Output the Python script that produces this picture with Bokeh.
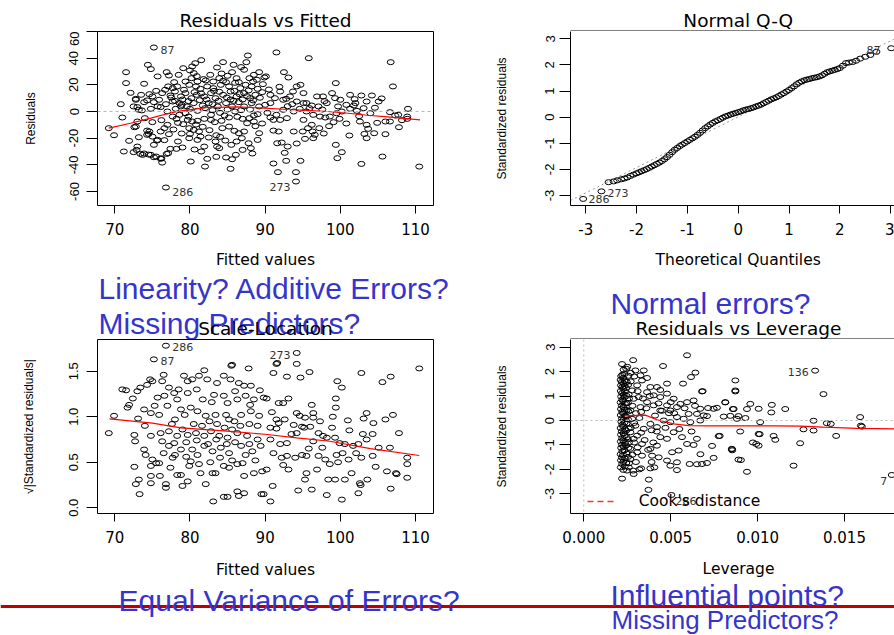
from bokeh.plotting import figure
from bokeh.layouts import row, column
from bokeh.models import (Label, Span, FixedTicker, Range1d, Legend, LegendItem, PrintfTickFormatter)
from bokeh.embed import file_html
from bokeh.resources import INLINE

# ---------------- data ----------------
# Residuals vs Fitted: (fitted value, residual)
rvf_points = [
    (75.2, 48), (87.7, 42), (81.5, 38.5), (84.4, 37), (80.7, 36.2), (74.4, 35), (74.8, 31.8), (71.5, 29.5),
    (75.7, 26.3), (77.2, 27), (78.5, 27.5), (80.0, 30.8), (80.3, 33.8), (80.5, 28.8), (80.2, 25), (81.0, 22.5),
    (81.8, 24.3), (82.1, 23.3), (83.1, 22.5), (83.9, 25), (84.4, 23), (85.0, 26.8), (85.6, 29.5), (86.2, 25),
    (86.8, 33.3), (87.2, 31.3), (87.9, 25), (88.5, 27.5), (89.2, 29.5), (89.9, 25.5),
    (71.5, 21.3), (73.9, 20.8), (77.1, 18.8), (77.7, 17.5), (78.3, 18.8), (79.2, 16.3), (79.9, 20), (80.8, 18.8),
    (81.4, 17), (82.3, 18.8), (83.1, 17.5), (84.1, 20), (85.2, 18.8), (85.9, 15.5), (86.7, 17.5), (87.4, 20),
    (88.2, 18.8), (89.0, 17), (89.7, 20.5),
    (76.3, 13.8), (77.4, 12), (78.0, 15), (78.8, 11.3), (79.4, 13.8), (80.2, 10), (80.9, 12.5), (81.9, 11.3),
    (82.8, 13.8), (83.4, 10), (84.4, 12.5), (85.4, 15), (86.2, 11.3), (87.2, 13.8), (88.0, 10), (88.7, 12.5),
    (89.6, 14.5),
    (72.8, 8.8), (73.9, 7), (75.0, 11.3), (75.9, 8.8), (76.8, 5.5), (77.7, 7.5), (78.6, 6.3), (79.6, 3.8),
    (80.5, 6.3), (81.7, 4.5), (82.5, 6.3), (83.7, 3.8), (84.8, 6.3), (85.6, 3.8), (86.5, 7), (87.2, 3.8),
    (88.2, 6.3), (89.2, 3.8), (72.5, 3.8), (73.2, 1.3), (74.8, 2), (75.7, 3.8), (77.0, 0), (78.1, 2), (78.8, 3.8),
    (72.8, 9.5), (73.0, 3.3), (73.6, 0.8), (74.3, 8.3), (75.2, 7), (76.1, 3.3),
    (69.2, -12.5), (69.9, -17.8), (71.9, -22), (71.2, -30), (72.6, -11.8), (72.9, -28.8), (73.7, -32.5),
    (74.6, -15), (74.3, -17.5), (75.0, -18.8), (75.7, -21.3), (76.1, -15), (76.6, -12.5), (77.0, -10),
    (75.5, -33.8), (76.2, -35), (76.3, -38.3), (77.1, -31.3), (78.2, -28), (79.0, -27), (79.7, -6.3),
    (80.3, -7.5), (81.0, -7), (81.9, -5.5), (82.8, -6.3), (79.9, -12.5), (80.5, -13.8), (81.2, -15),
    (79.9, -20), (81.0, -21.3), (81.4, -18.8), (82.5, -19.5), (83.6, -26.3), (83.9, -27.5), (81.9, -26.3),
    (80.1, -37.5), (82.3, -35.5), (83.5, -34), (84.8, -34.5), (85.6, -35.8), (85.4, -43), (82.0, -41.3),
    (84.3, -12.5), (85.2, -11.3), (85.9, -14.5), (86.5, -16.3), (87.2, -15), (87.6, -8.8), (87.0, -5.5),
    (87.9, -5), (88.5, -7.5), (89.2, -16.3), (89.0, -21.3), (87.0, -28.8), (88.1, -27.5), (86.1, -32.5),
    (86.3, -4), (85.2, -4.5), (84.2, -7), (83.3, -8), (78.6, -2.5), (79.4, -1.3), (77.7, -3.8), (73.0, -26.3),
    (73.9, -31.5), (74.8, -32.5), (75.2, -25), (76.6, -21.5), (76.8, -57),
    (72.8, -11.3), (73.2, -19.3), (74.3, -14.3), (74.5, -16.8), (75.6, -21.8), (72.5, -30.5), (73.4, -31.8),
    (74.5, -32.3), (75.2, -34.3), (76.1, -35.5), (76.9, -31.8), (77.4, -28),
    (78.0, 8), (79.0, 9), (80.0, 2), (81.0, 0.5), (82.0, 2.5), (83.0, 1), (84.0, -1), (85.0, 1.5), (86.0, 0),
    (87.0, 9), (88.0, 1.5), (89.0, -2), (82.8, -2.5), (84.6, -3), (86.8, 1), (88.7, -11), (80.8, -9.8),
    (78.4, -8.5), (83.2, 15.5), (86.0, 21.5), (88.4, 22.5), (84.8, 22), (82.7, 27.5), (79.4, 22.5), (85.4, 9),
    (83.8, 8), (87.8, 15.8), (81.3, 8.5), (79.8, -3.8), (78.9, -16.5), (77.2, -17), (84.0, -19), (86.2, -22.5),
    (88.5, -3), (90.3, -1), (90.5, 16.5), (91.9, 18.5), (93.0, 4), (97.9, 7.8), (101.9, 9.3),
    (77.5, 10.5), (78.9, 5), (79.8, 7.8), (80.6, 14.5), (81.5, 13.5), (82.2, 9), (83.0, 5.5), (83.9, 14.8),
    (84.9, 10.5), (85.8, 8), (86.6, 13), (87.6, 11.5), (88.4, 8.3), (89.3, 10.3), (76.7, 16.3), (75.5, 15.5),
    (74.6, 13), (73.5, 12.5), (77.9, 22), (80.9, 26.5), (84.2, 28.5), (86.5, 22), (88.9, 23.8), (78.2, -5.5),
    (79.1, -9.5), (80.0, -16.8), (81.7, -11.5), (82.6, -14), (83.5, -17.8), (84.7, -21.8), (85.5, -25),
    (86.9, -20), (87.8, -23.8), (88.3, -31.5), (89.6, -9), (83.4, -22.5), (81.5, -30), (80.6, -28.5),
    (78.4, -22.5), (77.8, -13.5), (76.2, -6.5), (75.0, -8), (74.0, -5), (73.0, -7.5), (71.0, -4.5), (70.8, 5.5),
    (72.1, 14), (76.9, 29.5), (79.1, 32.5), (83.6, 33), (85.8, 35), (87.5, 37), (92.8, 9.5), (93.6, 5.5),
    (95.9, 2.5), (97.6, 1.5), (99.7, 3.8), (101.8, 4.5), (104.6, 2.8), (105.5, 9.8), (102.5, -3.5), (100.8, -9),
    (98.5, -11), (97.8, -16.5), (95.3, -20.5), (94.2, -24), (92.6, -31), (101.2, -18), (104.9, -8.5), (108.2, -6.5),
    (91.5, 44.3), (95.8, 40), (106.7, 37), (92.5, 29.5), (93.1, 25.5), (90.1, 26.3), (99.4, 21.3), (107.0, 18.8),
    (94.7, 20), (94.2, 18.8), (95.1, 13.8), (93.7, 15), (92.0, 15), (90.7, 12.5), (91.3, 10), (92.4, 8.8),
    (93.3, 11.3), (94.2, 7.5), (95.5, 6.3), (96.9, 11.3), (97.7, 11.3), (98.9, 13.8), (100.0, 8.8),
    (101.3, 12.5), (102.8, 12), (104.2, 12), (105.1, 7.5), (103.5, 7.5), (102.0, 6.3), (100.8, 5), (99.3, 10),
    (98.2, 6.3), (97.1, 3.8), (96.2, 4.5), (95.1, 6.3), (90.7, 6.3), (90.0, 5), (109.0, 2), (108.9, -3.8),
    (108.9, -5.5), (107.7, -2.5), (107.3, -3), (106.6, -0.5), (106.6, -7.5), (106.0, -7.5), (107.8, -11.8),
    (99.5, -1.3), (100.2, 0), (98.6, -3.8), (98.0, -4.5), (97.3, -3.8), (96.4, -2.5), (95.5, 0), (94.6, 2),
    (93.8, 0), (92.4, 1.3), (91.5, -2.5), (90.7, -4.5), (91.1, -6.3), (92.0, -6.3), (92.9, -5), (95.1, -6.3),
    (99.1, -8), (99.9, -5.5), (101.3, 2), (102.2, 0.5), (103.1, 2.5), (104.0, -1.3), (102.6, -7.5),
    (103.5, -10), (103.7, -13), (104.5, -16.3), (103.2, -16.8), (103.5, -20), (106.0, -17), (91.1, -14.3),
    (91.8, -15), (93.8, -15), (95.0, -15), (95.7, -12.5), (96.2, -10), (96.3, -15), (96.6, -17.5),
    (96.4, -20), (97.2, -12.5), (91.6, -23.8), (92.2, -23.3), (93.0, -26.3), (99.4, -25), (100.2, -30.5),
    (99.6, -35), (105.6, -33.8), (102.8, -39.3), (110.5, -41.3), (91.1, -39), (92.8, -37), (94.7, -37),
    (91.7, -45.5), (94.1, -45.5), (94.1, -52.5),
]
rvf_fitted = [p[0] for p in rvf_points]
rvf_resid = [p[1] for p in rvf_points]
rvf_smooth_x = [69.2, 72.1, 74.8, 77.2, 79.2, 82.3, 86.3, 89.9, 93.0, 95.6, 98.3, 101.0, 103.6, 106.3, 110.6]
rvf_smooth_y = [-12.5, -8.8, -5.0, -1.3, 0.8, 3.0, 3.5, 2.5, 1.5, 0.8, 0.0, -1.3, -2.8, -4.0, -6.3]
rvf_xticks = [70, 80, 90, 100, 110]
rvf_yticks = [-60, -40, -20, 0, 20, 40, 60]

# Normal Q-Q: theoretical quantile, standardized residual
qq_theoretical = [-3.05, -2.69, -2.55, -2.45, -2.38, -2.30, -2.24, -2.18, -2.12, -2.06, -2.0, -1.95, -1.9,
                  -1.85, -1.8, -1.75, -1.7, -1.65, -1.6, -1.55, -1.5, -1.45, -1.4, -1.35, -1.3, -1.25, -1.2,
                  -1.15, -1.1, -1.05, -1.0, -0.95, -0.9, -0.85, -0.8, -0.75, -0.7, -0.65, -0.6, -0.55, -0.5,
                  -0.45, -0.4, -0.35, -0.3, -0.25, -0.2, -0.15, -0.1, -0.05, 0.0, 0.05, 0.1, 0.15, 0.2, 0.25,
                  0.3, 0.35, 0.4, 0.45, 0.5, 0.55, 0.6, 0.65, 0.7, 0.75, 0.8, 0.85, 0.9, 0.95, 1.0, 1.05, 1.1,
                  1.15, 1.2, 1.25, 1.3, 1.35, 1.4, 1.45, 1.5, 1.55, 1.6, 1.65, 1.7, 1.75, 1.8, 1.85, 1.9, 1.95,
                  2.0, 2.06, 2.12, 2.18, 2.25, 2.32, 2.4, 2.5, 2.6, 2.72, 3.01]
qq_sample = [-3.13, -2.84, -2.49, -2.46, -2.42, -2.38, -2.35, -2.31, -2.25, -2.2, -2.15, -2.11, -2.07,
             -2.03, -1.99, -1.94, -1.89, -1.84, -1.79, -1.74, -1.68, -1.61, -1.53, -1.44, -1.34, -1.25, -1.18,
             -1.11, -1.05, -0.99, -0.93, -0.87, -0.81, -0.75, -0.68, -0.6, -0.51, -0.42, -0.35, -0.28, -0.22,
             -0.16, -0.12, -0.07, -0.02, 0.03, 0.06, 0.1, 0.13, 0.16, 0.19, 0.22, 0.26, 0.29, 0.31, 0.34,
             0.37, 0.41, 0.44, 0.48, 0.53, 0.58, 0.63, 0.68, 0.72, 0.76, 0.81, 0.87, 0.92, 0.98, 1.04, 1.11, 1.18,
             1.26, 1.32, 1.37, 1.41, 1.44, 1.46, 1.49, 1.51, 1.53, 1.56, 1.6, 1.66, 1.72, 1.75, 1.78, 1.81, 1.84,
             1.88, 1.97, 2.07, 2.09, 2.11, 2.16, 2.24, 2.31, 2.38, 2.5, 2.64]
qq_line_x = [-3.3, 3.08]
qq_line_y = [-3.19, 3.0]
qq_ticks = [-3, -2, -1, 0, 1, 2, 3]

# Scale-Location: (fitted value, sqrt(|standardized residual|))
sl_points = [
    (76.8, 1.78), (75.2, 1.63), (85.5, 1.56), (85.6, 1.57), (87.8, 1.53), (81.9, 1.51), (81.2, 1.45), (84.5, 1.45),
    (76.5, 1.46), (76.3, 1.39), (75.0, 1.39), (74.3, 1.35), (74.7, 1.41), (73.4, 1.32), (73.0, 1.28), (71.0, 1.3),
    (71.5, 1.29), (77.2, 1.32), (77.9, 1.26), (79.2, 1.45), (79.7, 1.39), (80.3, 1.41), (82.3, 1.41), (83.6, 1.37),
    (85.4, 1.41), (86.5, 1.37), (87.2, 1.34), (88.1, 1.34), (89.3, 1.29),
    (79.7, 1.26), (78.3, 1.19), (76.6, 1.23), (75.7, 1.21), (81.7, 1.19), (83.2, 1.24), (84.5, 1.23), (86.3, 1.19),
    (87.4, 1.23), (88.5, 1.19), (89.8, 1.21),
    (71.9, 1.13), (71.7, 1.1), (73.9, 1.08), (74.8, 1.04), (75.9, 1.02), (78.8, 1.08), (80.1, 1.1), (81.0, 1.06),
    (82.1, 1.01), (83.4, 1.02), (84.8, 1.02), (85.2, 0.97), (85.9, 0.95), (86.8, 1.02), (88.1, 1.06), (89.2, 1.01),
    (69.9, 1.01),
    (69.2, 0.82), (72.6, 0.8), (72.7, 0.73), (74.8, 0.79), (76.1, 0.82), (77.2, 0.84), (78.3, 0.79), (79.0, 0.86),
    (79.7, 0.8), (80.8, 0.82), (81.9, 0.79), (82.8, 0.84), (83.9, 0.79), (85.0, 0.77), (86.3, 0.82), (87.6, 0.79),
    (89.0, 0.75),
    (76.3, 0.73), (77.2, 0.68), (77.9, 0.71), (78.8, 0.64), (80.3, 0.64), (81.0, 0.58), (81.9, 0.68), (83.0, 0.62),
    (84.1, 0.66), (85.2, 0.6), (86.8, 0.68), (87.4, 0.58), (88.3, 0.62), (89.4, 0.68), (73.9, 0.64), (74.1, 0.58),
    (75.0, 0.53), (75.5, 0.49), (77.7, 0.55), (80.1, 0.51), (79.9, 0.46), (81.4, 0.38), (83.4, 0.38), (84.5, 0.46),
    (85.2, 0.44), (86.3, 0.48), (87.2, 0.35), (88.5, 0.38), (89.6, 0.4), (72.6, 0.45), (74.8, 0.46), (75.9, 0.49),
    (77.4, 0.44), (73.2, 0.31), (72.8, 0.26), (74.8, 0.35), (74.8, 0.27), (76.0, 0.35), (76.8, 0.26), (76.8, 0.22),
    (78.3, 0.36), (78.8, 0.36), (79.7, 0.29), (79.0, 0.24), (82.1, 0.26), (83.0, 0.38), (73.3, 0.15), (84.5, 0.12),
    (85.0, 0.12), (83.1, 0.07), (86.3, 0.18), (86.5, 0.13), (87.2, 0.16), (89.5, 0.15),
    (77.0, 1.12), (78.0, 0.97), (79.3, 1.02), (80.5, 0.92), (81.6, 0.9), (82.6, 0.95), (83.6, 0.92), (84.6, 0.88),
    (85.6, 0.86), (86.7, 0.9), (87.9, 0.92), (89.0, 0.9), (77.6, 0.92), (79.5, 0.72), (80.9, 0.74), (82.4, 0.7),
    (83.5, 0.75), (84.9, 0.7), (86.0, 0.72), (87.9, 0.7), (76.5, 0.6), (78.0, 0.58), (79.5, 0.56), (81.2, 0.48),
    (82.7, 0.5), (84.0, 0.55), (85.6, 0.52), (87.0, 0.49), (88.7, 0.52), (74.0, 0.9), (73.1, 0.98), (72.4, 1.2),
    (75.3, 1.12), (78.5, 1.3), (80.9, 1.3), (82.9, 1.16), (85.0, 1.15), (86.0, 1.28), (88.0, 1.13), (90.9, 1.05),
    (92.6, 0.97), (93.5, 0.81), (95.8, 0.65), (97.6, 0.66), (100.3, 0.6), (102.1, 0.6), (104.7, 0.45),
    (106.2, 0.4), (101.0, 0.96), (95.2, 0.88), (97.3, 0.95), (99.0, 1.0),
    (94.2, 1.7), (91.5, 1.58), (91.6, 1.59), (94.2, 1.58), (91.1, 1.48), (92.9, 1.44), (94.7, 1.43), (95.9, 1.49),
    (99.6, 1.39), (100.2, 1.32), (102.8, 1.48), (105.6, 1.38), (106.7, 1.44), (110.5, 1.53), (90.2, 1.2),
    (91.8, 1.15), (92.4, 1.15), (93.1, 1.2), (96.2, 1.13), (99.4, 1.2), (99.4, 1.1), (94.2, 1.04), (94.6, 1.01),
    (95.3, 0.99), (96.4, 1.04), (96.4, 0.99), (91.5, 0.97), (91.8, 0.93), (103.5, 1.04), (103.1, 0.98),
    (104.4, 0.93), (106.0, 0.97), (107.0, 1.02), (90.7, 0.88), (91.5, 0.87), (93.8, 0.91), (94.9, 0.89),
    (96.0, 0.89), (97.1, 0.82), (97.7, 0.79), (98.9, 0.88), (101.2, 0.85), (103.0, 0.81), (103.5, 0.75),
    (104.3, 0.81), (107.8, 0.82), (90.7, 0.75), (92.0, 0.7), (92.9, 0.71), (94.2, 0.82), (96.4, 0.73),
    (98.2, 0.77), (99.3, 0.77), (99.9, 0.71), (100.6, 0.7), (101.7, 0.68), (102.4, 0.7), (105.1, 0.66),
    (106.6, 0.66), (91.1, 0.6), (92.2, 0.55), (92.9, 0.57), (94.0, 0.55), (94.9, 0.58), (95.5, 0.57),
    (97.1, 0.57), (98.0, 0.53), (98.6, 0.48), (99.5, 0.58), (99.7, 0.5), (101.1, 0.53), (102.8, 0.55),
    (104.3, 0.57), (108.9, 0.55), (108.9, 0.48), (90.2, 0.42), (92.4, 0.47), (93.1, 0.42), (95.5, 0.38),
    (96.9, 0.42), (95.3, 0.31), (98.4, 0.31), (99.3, 0.31), (100.6, 0.31), (101.5, 0.38), (102.6, 0.27),
    (102.7, 0.25), (103.6, 0.31), (107.4, 0.38), (107.5, 0.37), (108.9, 0.33), (91.0, 0.24), (94.4, 0.19),
    (96.2, 0.2), (98.2, 0.14), (100.2, 0.09), (102.4, 0.16), (106.7, 0.21), (90.7, 0.07), (89.8, 0.15),
]
sl_fitted = [p[0] for p in sl_points]
sl_sqrt_resid = [p[1] for p in sl_points]
sl_smooth_x = [69.3, 75.0, 78.8, 85.4, 90.3, 94.2, 98.6, 104.0, 110.5]
sl_smooth_y = [0.977, 0.93, 0.878, 0.84, 0.805, 0.768, 0.731, 0.65, 0.574]
sl_yticks = [0.0, 0.5, 1.0, 1.5]

# Residuals vs Leverage: (leverage, standardized residual)
lev_points = [
    (0.00213, -1.92), (0.00214, -1.63), (0.00212, -1.38), (0.00215, -1.12), (0.00213, -0.86), (0.00214, -0.58),
    (0.00212, -0.31), (0.00216, -0.05), (0.00213, 0.22), (0.00214, 0.47), (0.00212, 0.74), (0.00215, 0.98),
    (0.00213, 1.21), (0.00214, 1.44), (0.00212, 1.66), (0.00215, 1.82),
    (0.0022, -2.38), (0.00221, -1.78), (0.00219, -1.51), (0.00222, -1.26), (0.0022, -0.99), (0.00221, -0.72),
    (0.00219, -0.44), (0.00222, -0.17), (0.0022, 0.09), (0.00221, 0.35), (0.00219, 0.61), (0.00222, 0.86),
    (0.0022, 1.12), (0.00221, 1.37), (0.00219, 1.58), (0.00222, 1.87), (0.0022, 2.31),
    (0.00227, -2.02), (0.00228, -1.69), (0.00226, -1.41), (0.00229, -1.08), (0.00227, -0.81), (0.00228, -0.52),
    (0.00226, -0.24), (0.00229, 0.03), (0.00227, 0.29), (0.00228, 0.55), (0.00226, 0.8), (0.00229, 1.05),
    (0.00227, 1.3), (0.00228, 1.52), (0.00226, 1.74), (0.00229, 2.08),
    (0.00235, -1.88), (0.00236, -1.55), (0.00234, -1.22), (0.00237, -0.93), (0.00235, -0.63), (0.00236, -0.36),
    (0.00234, -0.09), (0.00237, 0.18), (0.00235, 0.44), (0.00236, 0.69), (0.00234, 0.95), (0.00237, 1.19),
    (0.00235, 1.42), (0.00236, 1.63), (0.00234, 1.9),
    (0.00244, -1.74), (0.00246, -1.36), (0.00243, -1.02), (0.00247, -0.69), (0.00244, -0.41), (0.00246, -0.12),
    (0.00243, 0.16), (0.00247, 0.43), (0.00244, 0.71), (0.00246, 1.01), (0.00243, 1.33), (0.00247, 1.58),
    (0.00244, 2.12),
    (0.00255, -1.49), (0.00257, -1.12), (0.00254, -0.77), (0.00258, -0.33), (0.00255, 0.04), (0.00257, 0.37),
    (0.00254, 0.72), (0.00258, 1.07), (0.00255, 1.46), (0.00257, 1.83),
    (0.00594, 2.67), (0.00284, 2.47), (0.00456, 2.23), (0.00642, 1.96), (0.00617, 1.78), (0.00479, 1.51),
    (0.00571, 1.51), (0.0068, 1.19), (0.00684, 1.2), (0.00872, 1.64), (0.00872, 1.23), (0.00814, 0.75),
    (0.00766, 0.52), (0.00715, 0.51), (0.00632, 0.82), (0.0067, 0.48), (0.00747, 0.48), (0.00858, 0.47),
    (0.00881, 0.07), (0.0089, 0.18), (0.00776, -0.64), (0.00852, -1.16), (0.00854, -1.22), (0.0089, -1.6),
    (0.00747, -1.53), (0.00709, -1.74), (0.0068, -1.78), (0.00651, -1.79), (0.00609, -1.78), (0.00536, -2.03),
    (0.00504, -3.05), (0.00374, -2.42), (0.00372, -2.84), (0.00287, -2.19), (0.00284, -2.05), (0.0033, -1.96),
    (0.00383, -1.96), (0.00406, -1.92), (0.00431, -1.51), (0.00393, -1.44), (0.00479, -1.64), (0.00498, -1.85),
    (0.00536, -1.71), (0.00508, -1.3), (0.00546, -1.23), (0.00594, -0.96), (0.00632, -1.0), (0.00651, -0.75),
    (0.00565, -0.68), (0.00517, -0.48), (0.00479, -0.75), (0.0044, -0.68), (0.00421, -1.03), (0.00383, -1.16),
    (0.00335, -0.96), (0.00307, -0.62), (0.00345, -0.34), (0.00383, -0.14), (0.00421, -0.27), (0.0046, 0.0),
    (0.00498, -0.07), (0.00536, 0.14), (0.00575, 0.07), (0.00603, 0.27), (0.00651, 0.27), (0.0069, 0.21),
    (0.00613, -0.07), (0.0067, 0.0), (0.00709, 0.18), (0.00498, 0.41), (0.00536, 0.55), (0.00479, 0.62),
    (0.0044, 0.41), (0.00402, 0.62), (0.00364, 0.75), (0.00326, 0.55), (0.00316, 0.96), (0.00364, 1.16),
    (0.00402, 1.03), (0.0044, 0.96), (0.00479, 1.1), (0.00517, 0.89), (0.00556, 0.68), (0.00594, 0.75),
    (0.00307, 1.44), (0.00335, 1.64), (0.00364, 1.74), (0.00326, 1.85), (0.00297, 2.05), (0.00345, 2.05),
    (0.00421, 1.37), (0.00383, 1.37), (0.00278, 1.23), (0.00287, 0.89), (0.00268, 0.41), (0.00278, 0.07),
    (0.00297, -0.21), (0.00268, -0.48), (0.00287, -0.75), (0.00268, -1.16), (0.00307, -1.3), (0.00335, -1.44),
    (0.00268, -1.58), (0.00259, -1.92), (0.00249, -2.05),
    (0.0027, 1.6), (0.0029, 1.8), (0.0031, 1.2), (0.0028, 0.6), (0.0030, 0.3), (0.0032, 0.1), (0.0034, 0.9),
    (0.0036, 0.5), (0.0038, 1.0), (0.0027, -0.3), (0.0029, -0.9), (0.0031, -1.1), (0.0033, -0.5), (0.0035, -0.8),
    (0.0037, -1.2), (0.0039, -0.4), (0.0041, 0.2), (0.0043, 0.7), (0.0045, 0.4), (0.0047, -0.3), (0.0049, 0.3),
    (0.0028, -1.4), (0.0030, -1.7), (0.0032, -2.0), (0.0026, 0.9), (0.0026, -0.9), (0.0027, 1.95), (0.0029, -0.1),
    (0.0033, 0.35), (0.0040, -0.9), (0.0042, -0.45), (0.0044, 1.25), (0.0052, 0.3), (0.0055, -0.35),
    (0.0058, 0.5), (0.0050, 0.75), (0.0062, -0.45), (0.0064, 0.6), (0.0039, -1.7), (0.0026, -1.75), (0.0025, 2.2),
    (0.01331, 2.04), (0.01379, 1.08), (0.01082, 0.64), (0.01079, 0.33), (0.01159, 0.47), (0.01006, 0.48),
    (0.00958, 0.68), (0.00939, 0.47), (0.0093, 0.1), (0.01015, -0.07), (0.01322, -0.01), (0.01398, -0.11),
    (0.01421, -0.14), (0.01264, -0.36), (0.01322, -0.41), (0.0159, 0.14), (0.01594, -0.21), (0.016, -0.25),
    (0.01452, -0.63), (0.01092, -0.63), (0.01102, -0.79), (0.01006, -0.55), (0.01012, -0.56), (0.00973, -0.9),
    (0.00992, -0.96), (0.01006, -1.03), (0.01245, -0.93), (0.01207, -1.85), (0.00904, -1.62), (0.00939, -2.1),
    (0.00782, -0.63), (0.00852, -1.18), (0.00738, -1.04), (0.00671, -1.38), (0.009, -0.45), (0.00805, 0.16),
    (0.00843, 0.19), (0.00872, 1.19), (0.00814, 0.74), (0.00862, 0.47), (0.01772, -2.23),
]
lev_leverage = [p[0] for p in lev_points]
lev_resid = [p[1] for p in lev_points]
lev_smooth_x = [0.00234, 0.00354, 0.00421, 0.00517, 0.00603, 0.00709, 0.01092, 0.01245, 0.01379, 0.01571, 0.01785]
lev_smooth_y = [0.19, 0.22, 0.03, -0.14, -0.21, -0.22, -0.22, -0.23, -0.27, -0.32, -0.34]
lev_xticks = [0.0, 0.005, 0.010, 0.015]
lev_yticks = [-3, -2, -1, 0, 1, 2, 3]

# ---------------- layout geometry (page pixels; the page has no margin) ----------------
BLUE = "#3535cc"
FONT_H = "DejaVu Sans"
FONT_V = "Liberation Sans"
FRAMES = {
    "tl": dict(cx=0, cy=31, w=480, h=214, L=97, R=433, T=31, B=205, x=(67.699, 112.394), y=(-70.5, 60.0)),
    "tr": dict(cx=480, cy=31, w=414, h=214, L=570, R=894, T=31, B=205, x=(-3.299, 3.075), y=(-3.382, 3.279)),
    "bl": dict(cx=0, cy=339, w=480, h=211, L=97, R=433, T=339, B=513, x=(67.699, 112.394), y=(-0.0626, 1.848)),
    "br": dict(cx=480, cy=339, w=414, h=211, L=570, R=894, T=339, B=513, x=(-0.000765, 0.017877), y=(-3.807, 3.316)),
}


def dx(k, px):
    f = FRAMES[k]
    return f["x"][0] + (px - f["L"]) / (f["R"] - f["L"]) * (f["x"][1] - f["x"][0])


def dy(k, py):
    f = FRAMES[k]
    return f["y"][1] - (py - f["T"]) / (f["B"] - f["T"]) * (f["y"][1] - f["y"][0])


def make(k, boxed):
    f = FRAMES[k]
    p = figure(width=f["w"], height=f["h"], x_range=Range1d(*f["x"]), y_range=Range1d(*f["y"]),
               output_backend="svg", toolbar_location=None, title=None,
               min_border_left=f["L"] - f["cx"], min_border_right=f["cx"] + f["w"] - f["R"],
               min_border_top=f["T"] - f["cy"], min_border_bottom=f["cy"] + f["h"] - f["B"])
    p.grid.visible = False
    p.background_fill_color = "white"
    p.border_fill_color = "white"
    p.outline_line_color = "black" if boxed else None
    p.outline_line_width = 1
    return p


def band(top, bottom):
    # text strip: its data coordinates are the page pixels
    p = figure(width=894, height=bottom - top, x_range=Range1d(0, 894), y_range=Range1d(bottom, top),
               output_backend="svg", toolbar_location=None, title=None,
               x_axis_type=None, y_axis_type=None,
               min_border_left=0, min_border_right=0, min_border_top=0, min_border_bottom=0)
    p.outline_line_color = None
    p.background_fill_color = "white"
    p.border_fill_color = "white"
    return p


def style(p, boxed, xticks, xfmt, yticks, yfmt, ytitle, ylab_so, ytitle_so):
    xa, ya = p.below[0], p.left[0]
    for a in (xa, ya):
        a.minor_tick_line_color = None
        a.major_tick_in = 0
        a.major_tick_line_color = "black"
        a.major_tick_line_width = 1
        a.axis_line_color = None if boxed else "black"
        a.axis_label_text_font_style = "normal"
        a.axis_label_text_color = "black"
        a.major_label_text_color = "black"
    xa.ticker = FixedTicker(ticks=xticks)
    xa.formatter = PrintfTickFormatter(format=xfmt)
    xa.major_tick_out = 8
    xa.major_label_text_font = FONT_H
    xa.major_label_text_font_size = "15px"
    xa.major_label_standoff = 9
    ya.ticker = FixedTicker(ticks=yticks)
    ya.formatter = PrintfTickFormatter(format=yfmt)
    ya.major_tick_out = 11
    ya.major_label_orientation = "vertical"
    ya.major_label_text_font = FONT_V
    ya.major_label_text_font_size = "13px"
    ya.major_label_standoff = ylab_so
    ya.axis_label = ytitle
    ya.axis_label_text_font = FONT_V
    ya.axis_label_text_font_size = "12px"
    ya.axis_label_standoff = ytitle_so


def text(p, x, y, s, size, font=FONT_H, color="black", align="left", baseline="middle"):
    p.add_layout(Label(x=x, y=y, text=s, text_font=font, text_font_size=size,
                       text_color=color, text_align=align, text_baseline=baseline))


def ptext(p, k, px, py, s, align="left"):
    text(p, dx(k, px), dy(k, py), s, "11px", color="#333333", align=align)


def circles(p, xs, ys):
    p.ellipse(x=xs, y=ys, width=7, height=5, width_units="screen", height_units="screen",
              fill_color=None, line_color="black", line_width=1)


# ---------------- band 1: titles of the top plots ----------------
b1 = band(0, 31)
text(b1, 265, 19.8, "Residuals vs Fitted", "18.5px", align="center")
text(b1, 737.7, 19.8, "Normal Q-Q", "18.5px", align="center")
b1.line([570, 894], [30.5, 30.5], line_color="black", line_width=1)

# ---------------- Residuals vs Fitted ----------------
tl = make("tl", True)
style(tl, True, rvf_xticks, "%d", rvf_yticks, "%d", "Residuals", 8, 29)
tl.add_layout(Span(location=0, dimension="width", line_color="#b8b8b8", line_dash="3 3", line_width=1))
circles(tl, rvf_fitted, rvf_resid)
tl.line(rvf_smooth_x, rvf_smooth_y, line_color="red", line_width=1.2)
ptext(tl, "tl", 160, 49.3, "87")
ptext(tl, "tl", 171.7, 191, "286")
ptext(tl, "tl", 290, 186, "273", align="right")

# ---------------- Normal Q-Q ----------------
tr = make("tr", False)
style(tr, False, qq_ticks, "%d", qq_ticks, "%d", "Standardized residuals", 5, 34)
tr.line(qq_line_x, qq_line_y, line_color="#999999", line_dash="2 3", line_width=1)
circles(tr, qq_theoretical, qq_sample)
ptext(tr, "tr", 588, 198, "286")
ptext(tr, "tr", 607, 192, "273")
ptext(tr, "tr", 880, 49, "87", align="right")

# ---------------- band 3: x titles, questions, titles of the bottom plots ----------------
b3 = band(245, 339)
text(b3, 265, 259.3, "Fitted values", "15.5px", align="center")
text(b3, 737.7, 259.3, "Theoretical Quantiles", "15.5px", align="center")
text(b3, 98, 288.3, "Linearity? Additive Errors?", "30px", font=FONT_V, color=BLUE, baseline="alphabetic")
text(b3, 610, 302.7, "Normal errors?", "30px", font=FONT_V, color=BLUE, baseline="alphabetic")
text(b3, 98, 323.3, "Missing Predictors?", "30px", font=FONT_V, color=BLUE, baseline="alphabetic")
text(b3, 265, 328.2, "Scale-Location", "18.5px", align="center")
text(b3, 738, 328.2, "Residuals vs Leverage", "18.5px", align="center")
b3.line([570, 894], [338.5, 338.5], line_color="black", line_width=1)

# ---------------- Scale-Location ----------------
bl = make("bl", True)
style(bl, True, rvf_xticks, "%d", sl_yticks, "%.1f", "\u221a|Standardized residuals|", 8, 31)
circles(bl, sl_fitted, sl_sqrt_resid)
bl.line(sl_smooth_x, sl_smooth_y, line_color="red", line_width=1.2)
ptext(bl, "bl", 171.7, 346.7, "286")
ptext(bl, "bl", 160, 360, "87")
ptext(bl, "bl", 290, 354, "273", align="right")

# ---------------- Residuals vs Leverage ----------------
br = make("br", False)
style(br, False, lev_xticks, "%.3f", lev_yticks, "%d", "Standardized residuals", 5, 34)
br.add_layout(Span(location=0, dimension="width", line_color="#b8b8b8", line_dash="2 3", line_width=1))
br.add_layout(Span(location=0, dimension="height", line_color="#b8b8b8", line_dash="2 3", line_width=1))
circles(br, lev_leverage, lev_resid)
br.line(lev_smooth_x, lev_smooth_y, line_color="red", line_width=1.2)
cook = br.line(x=[0.0], y=[-9.0], line_color="#ff3030", line_dash="6 4", line_width=1.3)
br.add_layout(Legend(items=[LegendItem(label="Cook's distance", renderers=[cook])], location=(16.7, 2),
                     padding=0, margin=0, spacing=0, glyph_width=29, glyph_height=20, label_height=20,
                     label_standoff=23, border_line_color=None, background_fill_alpha=0,
                     label_text_font=FONT_H, label_text_font_size="15.5px", label_text_color="black"))
ptext(br, "br", 808.3, 371.7, "136", align="right")
ptext(br, "br", 675, 500.7, "286")
ptext(br, "br", 886.7, 480.7, "7", align="right")

# ---------------- band 5: x titles, questions, red rule ----------------
b5 = band(550, 635)
b5.add_layout(Span(location=606, dimension="width", line_color="#c00000", line_width=3))
text(b5, 265, 569.3, "Fitted values", "15.5px", align="center")
text(b5, 738, 568.3, "Leverage", "15.5px", align="center")
text(b5, 118, 600, "Equal Variance of Errors?", "30px", font=FONT_V, color=BLUE, baseline="alphabetic")
text(b5, 610, 595, "Influential points?", "30px", font=FONT_V, color=BLUE, baseline="alphabetic")
text(b5, 611, 619.5, "Missing Predictors?", "26px", font=FONT_V, color=BLUE, baseline="middle")

layout = column(b1, row(tl, tr), b3, row(bl, br), b5)
open("out.html", "w").write(file_html(layout, INLINE, "Regression diagnostics"))
